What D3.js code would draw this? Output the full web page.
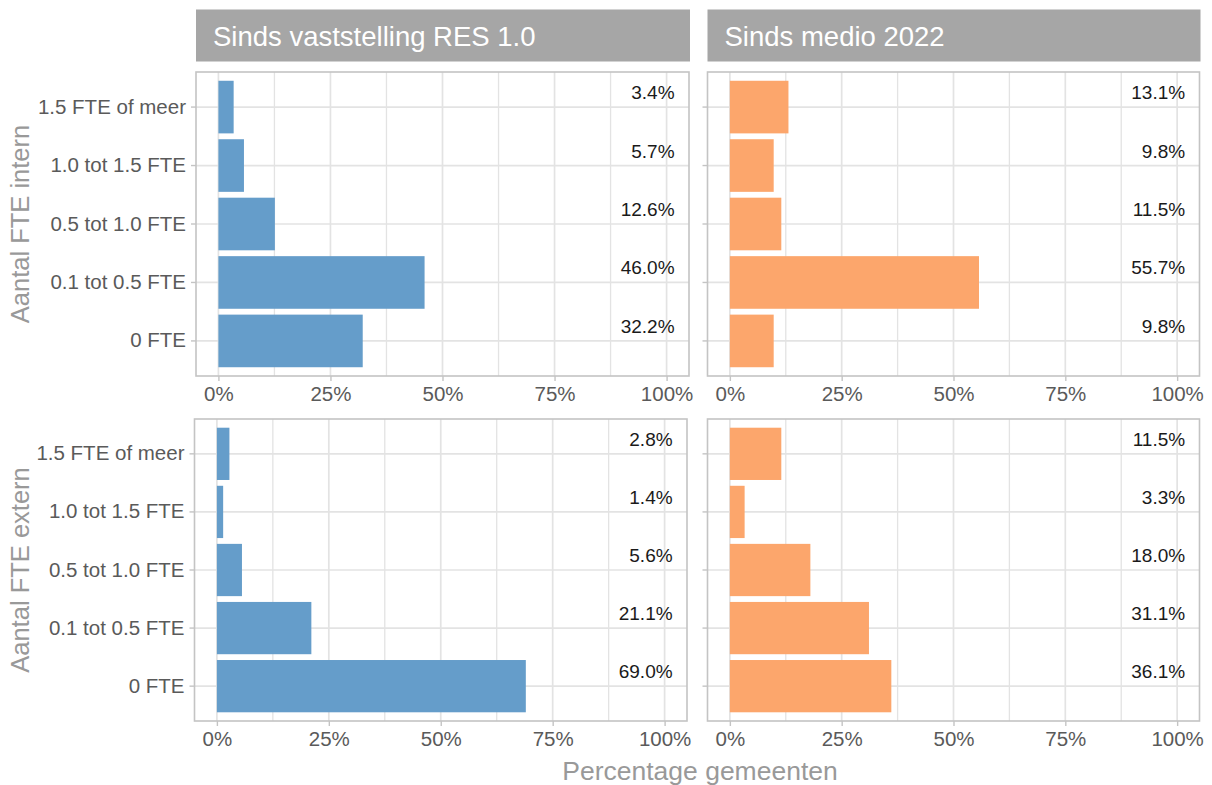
<!DOCTYPE html>
<html>
<head>
<meta charset="utf-8">
<script src="https://cdn.jsdelivr.net/npm/d3@7"></script>
<style>
  body { margin: 0; background: #fff; }
  svg { display: block; font-family: 'Liberation Sans', Arial, sans-serif; }
</style>
</head>
<body>
<svg id="chart" width="1212" height="785"></svg>
<script>
// categories, bottom to top as in the picture
const categories = ['0 FTE', '0.1 tot 0.5 FTE', '0.5 tot 1.0 FTE', '1.0 tot 1.5 FTE', '1.5 FTE of meer'];
const periods = ['Sinds vaststelling RES 1.0', 'Sinds medio 2022'];
const rowTitles = ['Aantal FTE intern', 'Aantal FTE extern'];
const xTicks = [0, 0.25, 0.5, 0.75, 1];

// share of municipalities (%), same order as categories
const internRes = [32.2, 46.0, 12.6, 5.7, 3.4];
const internMedio = [9.8, 55.7, 11.5, 9.8, 13.1];
const externRes = [69.0, 21.1, 5.6, 1.4, 2.8];
const externMedio = [36.1, 31.1, 18.0, 3.3, 11.5];

const colors = ['#659dca', '#fca66c'];

const panels = [
    { row: 0, col: 0, values: internRes,   x0: 196,   x1: 689,    y0: 72,  y1: 376 },
    { row: 0, col: 1, values: internMedio, x0: 707.5, x1: 1199.5, y0: 72,  y1: 376 },
    { row: 1, col: 0, values: externRes,   x0: 194.5, x1: 687,    y0: 419, y1: 721 },
    { row: 1, col: 1, values: externMedio, x0: 707.5, x1: 1199.5, y0: 419, y1: 721 }
];

const svg = d3.select('#chart');
const pct = d3.format('.0%');

// strips on top
periods.forEach((p, i) => {
    const pn = panels[i];
    svg.append('rect')
        .attr('x', pn.x0)
        .attr('y', 9.5)
        .attr('width', pn.x1 - pn.x0 + 1)
        .attr('height', 52)
        .attr('fill', '#a6a6a6');
    svg.append('text')
        .attr('x', pn.x0 + 17)
        .attr('y', 46)
        .attr('fill', '#ffffff')
        .style('font-size', '27.5px')
        .text(p);
});

panels.forEach(pn => {
    const x = d3.scaleLinear().domain([-0.05, 1.05]).range([pn.x0, pn.x1]);
    const y = d3.scaleBand()
        .domain(categories)
        .range([pn.y1, pn.y0])
        .paddingInner(0.1)
        .paddingOuter(0.15);
    const cy = d => y(d) + y.bandwidth() / 2;

    const g = svg.append('g');

    // grid: minor + major verticals, horizontals per category
    const minor = [0.125, 0.375, 0.625, 0.875];
    g.append('g').selectAll('line')
        .data(minor.concat(xTicks))
        .enter()
        .append('line')
            .attr('x1', d => x(d)).attr('x2', d => x(d))
            .attr('y1', pn.y0).attr('y2', pn.y1)
            .attr('stroke', '#e3e3e3')
            .attr('stroke-width', d => minor.includes(d) ? 1.3 : 1.7);
    g.append('g').selectAll('line')
        .data(categories)
        .enter()
        .append('line')
            .attr('x1', pn.x0).attr('x2', pn.x1)
            .attr('y1', cy).attr('y2', cy)
            .attr('stroke', '#e3e3e3')
            .attr('stroke-width', 1.7);

    // bars
    const rows = categories.map((c, i) => ({ cat: c, v: pn.values[i] }));
    g.append('g').selectAll('rect')
        .data(rows)
        .enter()
        .append('rect')
            .attr('x', x(0))
            .attr('y', d => y(d.cat))
            .attr('width', d => x(d.v / 100) - x(0))
            .attr('height', y.bandwidth())
            .attr('fill', colors[pn.col]);

    // value labels
    g.append('g').selectAll('text')
        .data(rows)
        .enter()
        .append('text')
            .attr('x', x(1) + 8)
            .attr('y', d => cy(d.cat) - 8)
            .attr('text-anchor', 'end')
            .attr('fill', '#1a1a1a')
            .style('font-size', '19px')
            .text(d => d.v.toFixed(1) + '%');

    // panel border
    g.append('rect')
        .attr('x', pn.x0).attr('y', pn.y0)
        .attr('width', pn.x1 - pn.x0).attr('height', pn.y1 - pn.y0)
        .attr('fill', 'none')
        .attr('stroke', '#c4c4c4')
        .attr('stroke-width', 1.6);

    // x axis
    const xa = g.append('g')
        .attr('transform', `translate(0,${pn.y1})`)
        .call(d3.axisBottom(x).tickValues(xTicks).tickFormat(pct).tickSize(5).tickPadding(5));
    xa.select('.domain').remove();
    xa.selectAll('line').attr('stroke', '#c4c4c4').attr('stroke-width', 1.4);
    xa.selectAll('text')
        .attr('fill', '#5a5a5a')
        .style('font-size', '20.5px')
        .style('font-family', "'Liberation Sans', Arial, sans-serif");

    // y axis
    const ya = g.append('g')
        .attr('transform', `translate(${pn.x0},0)`)
        .call(d3.axisLeft(y).tickSize(5).tickPadding(5));
    ya.select('.domain').remove();
    ya.selectAll('line').attr('stroke', '#c4c4c4').attr('stroke-width', 1.4);
    ya.selectAll('text')
        .attr('fill', '#5a5a5a')
        .style('font-size', '20.5px')
        .style('font-family', "'Liberation Sans', Arial, sans-serif")
        .style('display', pn.col === 0 ? null : 'none');
});

// row titles (y axis)
rowTitles.forEach((t, i) => {
    const pn = panels[i * 2];
    svg.append('text')
        .attr('transform', `translate(29,${(pn.y0 + pn.y1) / 2}) rotate(-90)`)
        .attr('text-anchor', 'middle')
        .attr('fill', '#999999')
        .style('font-size', '25.5px')
        .text(t);
});

// x axis title
svg.append('text')
    .attr('x', 700)
    .attr('y', 780)
    .attr('text-anchor', 'middle')
    .attr('fill', '#999999')
    .style('font-size', '26.5px')
    .text('Percentage gemeenten');
</script>
</body>
</html>
